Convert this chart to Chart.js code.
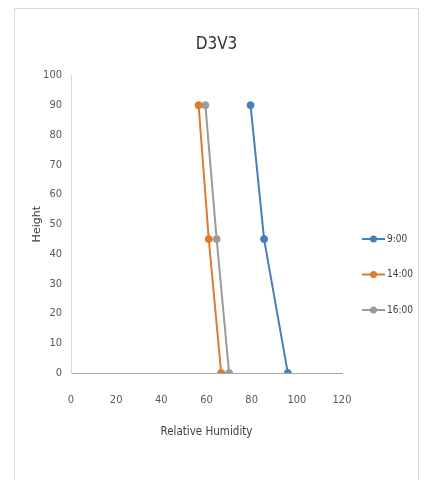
<!DOCTYPE html>
<html>
<head>
<meta charset="utf-8">
<script src="https://cdn.jsdelivr.net/npm/chart.js@4/dist/chart.umd.min.js"></script>
<style>
  body { margin: 0; background: #fff; }
  #frame {
    position: absolute; left: 14px; top: 8px;
    width: 405px; height: 480px;
    border: 1px solid #d9d9d9; box-sizing: border-box;
  }
  canvas { display: block; }
</style>
</head>
<body>
<div id="frame"><canvas id="myChart" width="403" height="471"></canvas></div>
<script>
const narrow = "'DejaVu Sans Condensed', 'Liberation Sans', sans-serif";

// data
const heights = [0, 45, 90];
const seriesNames = ['9:00', '14:00', '16:00'];
const rh900 = [96, 85.5, 79.5];
const rh1400 = [66.5, 61, 56.5];
const rh1600 = [70, 64.5, 59.5];
const xTicks = [0, 20, 40, 60, 80, 100, 120];
const yTicks = [0, 10, 20, 30, 40, 50, 60, 70, 80, 90, 100];

const colors = ['#4a7ebb', '#dc7a30', '#9b9b9b'];

function toPoints(xs) {
	return xs.map((x, i) => ({ x: x, y: heights[i] }));
}

// Excel-style legend on the right, line with a dot in the middle
const sideLegend = {
	id: 'sideLegend',
	afterDraw(chart) {
		const ctx = chart.ctx;
		const left = chart.chartArea.right + 20;
		let y = 230;
		ctx.save();
		chart.data.datasets.forEach((ds) => {
			ctx.strokeStyle = ds.borderColor;
			ctx.lineWidth = 2;
			ctx.beginPath();
			ctx.moveTo(left, y);
			ctx.lineTo(left + 23, y);
			ctx.stroke();
			ctx.fillStyle = ds.borderColor;
			ctx.beginPath();
			ctx.arc(left + 11.5, y, 3.5, 0, Math.PI * 2);
			ctx.fill();
			ctx.fillStyle = '#404040';
			ctx.font = '10px ' + narrow;
			ctx.textBaseline = 'middle';
			ctx.fillText(ds.label, left + 25, y);
			y += 35.5;
		});
		ctx.restore();
	}
};

var ctx = document.getElementById('myChart').getContext('2d');
var chart = new Chart(ctx, {
	type: 'scatter',
	data: {
		datasets: [rh900, rh1400, rh1600].map((vals, i) => ({
			label: seriesNames[i],
			data: toPoints(vals),
			showLine: true,
			borderColor: colors[i],
			backgroundColor: colors[i],
			borderWidth: 2,
			pointRadius: 3.5,
			pointBorderWidth: 1
		}))
	},
	options: {
		responsive: false,
		animation: false,
		layout: { padding: { left: 0, right: 0, top: 0, bottom: 31 } },
		plugins: {
			legend: { display: false },
			tooltip: { enabled: false },
			title: {
				display: true,
				text: 'D3V3',
				color: '#333333',
				font: { family: narrow, size: 17, weight: 'normal' },
				padding: { top: 25, bottom: 21 }
			}
		},
		scales: {
			x: {
				type: 'linear',
				min: 0, max: 120,
				afterBuildTicks: (s) => { s.ticks = xTicks.map(v => ({ value: v })); },
				afterFit: (s) => { s.height = 76; },
				grid: { display: false, drawTicks: false },
				border: { display: true, color: '#a6a6a6', width: 1 },
				ticks: { color: '#595959', padding: 21, font: { family: narrow, size: 11 } },
				title: {
					display: true,
					text: 'Relative Humidity',
					color: '#404040',
					font: { family: narrow, size: 11.5 },
					padding: { top: 4, bottom: 10 }
				}
			},
			y: {
				type: 'linear',
				min: 0, max: 100,
				afterBuildTicks: (s) => { s.ticks = yTicks.map(v => ({ value: v })); },
				afterFit: (s) => { s.width = 56; },
				grid: { display: false, drawTicks: false },
				border: { display: true, color: '#d9d9d9', width: 1 },
				ticks: { color: '#595959', padding: 9, font: { family: narrow, size: 11 } },
				title: {
					display: true,
					text: 'Height',
					color: '#404040',
					font: { family: "'DejaVu Sans', sans-serif", size: 11 },
					padding: { top: 16, bottom: 4 }
				}
			},
			// empty right axis that keeps room for the legend
			legendRoom: {
				type: 'linear',
				position: 'right',
				display: true,
				afterFit: (s) => { s.width = 76; },
				grid: { display: false, drawTicks: false },
				border: { display: false },
				ticks: { display: false }
			}
		}
	},
	plugins: [sideLegend]
});
</script>
</body>
</html>
